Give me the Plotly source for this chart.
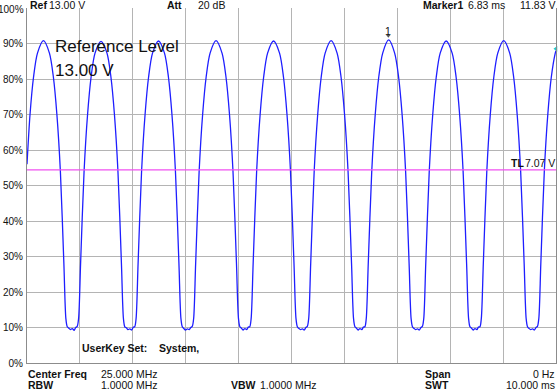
import plotly.graph_objects as go

# Trace: time (ms) and level (% of reference level 13.00 V)
time_ms = [
    0.000, 0.057, 0.123, 0.198, 0.311, 0.424, 0.499, 0.565, 0.631, 0.697, 0.735, 0.761, 0.791, 0.821, 0.856, 0.891, 0.921,
    0.949, 0.975, 1.013, 1.079, 1.145, 1.211, 1.286, 1.399, 1.512, 1.587, 1.653, 1.719, 1.785, 1.823, 1.849, 1.879, 1.909, 1.944, 1.979, 2.009,
    2.036, 2.062, 2.100, 2.166, 2.232, 2.298, 2.373, 2.486, 2.599, 2.674, 2.740, 2.806, 2.872, 2.910, 2.936, 2.966, 2.996, 3.031, 3.066, 3.096,
    3.124, 3.150, 3.188, 3.254, 3.320, 3.386, 3.461, 3.574, 3.687, 3.762, 3.828, 3.894, 3.960, 3.998, 4.024, 4.054, 4.084, 4.119, 4.154, 4.184,
    4.211, 4.237, 4.275, 4.341, 4.407, 4.473, 4.548, 4.661, 4.774, 4.849, 4.915, 4.981, 5.047, 5.085, 5.111, 5.141, 5.171, 5.206, 5.241, 5.271,
    5.299, 5.325, 5.363, 5.429, 5.495, 5.561, 5.636, 5.749, 5.862, 5.937, 6.003, 6.069, 6.135, 6.173, 6.199, 6.229, 6.259, 6.294, 6.329, 6.359,
    6.387, 6.413, 6.451, 6.517, 6.583, 6.649, 6.724, 6.837, 6.950, 7.025, 7.091, 7.157, 7.223, 7.261, 7.287, 7.317, 7.347, 7.382, 7.417, 7.447,
    7.474, 7.500, 7.538, 7.604, 7.670, 7.736, 7.811, 7.924, 8.037, 8.112, 8.178, 8.244, 8.310, 8.348, 8.374, 8.404, 8.434, 8.469, 8.504, 8.534,
    8.562, 8.588, 8.626, 8.692, 8.758, 8.824, 8.899, 9.012, 9.125, 9.200, 9.266, 9.332, 9.398, 9.436, 9.462, 9.492, 9.522, 9.557, 9.592, 9.622,
    9.649, 9.675, 9.713, 9.779, 9.845, 9.911, 9.986, 10.000,
]
level_pct = [
    56.0, 70, 80.5, 87.3, 90.8, 87.3, 80.5, 70, 54, 28, 12.5, 10.2, 9.8, 9.4, 9.7, 9.2, 10.0,
    10.3, 12.5, 28, 54, 70, 80.5, 87.3, 90.6, 87.3, 80.5, 70, 54, 28, 12.5, 10.2, 9.9, 9.4, 9.6, 9.3, 10.1,
    10.2, 12.5, 28, 54, 70, 80.5, 87.3, 90.7, 87.3, 80.5, 70, 54, 28, 12.5, 10.2, 9.7, 9.3, 9.6, 9.4, 10.0,
    10.3, 12.5, 28, 54, 70, 80.5, 87.3, 90.8, 87.3, 80.5, 70, 54, 28, 12.5, 10.2, 9.8, 9.3, 9.7, 9.4, 10.1,
    10.2, 12.5, 28, 54, 70, 80.5, 87.3, 90.7, 87.3, 80.5, 70, 54, 28, 12.5, 10.2, 9.7, 9.4, 9.6, 9.3, 10.0,
    10.3, 12.5, 28, 54, 70, 80.5, 87.3, 90.8, 87.3, 80.5, 70, 54, 28, 12.5, 10.2, 9.8, 9.3, 9.7, 9.4, 10.1,
    10.2, 12.5, 28, 54, 70, 80.5, 87.3, 91.0, 87.3, 80.5, 70, 54, 28, 12.5, 10.2, 9.7, 9.4, 9.6, 9.3, 10.0,
    10.3, 12.5, 28, 54, 70, 80.5, 87.3, 90.7, 87.3, 80.5, 70, 54, 28, 12.5, 10.2, 9.8, 9.3, 9.7, 9.4, 10.1,
    10.2, 12.5, 28, 54, 70, 80.5, 87.3, 90.8, 87.3, 80.5, 70, 54, 28, 12.5, 10.2, 9.7, 9.4, 9.6, 9.3, 10.0,
    10.3, 12.5, 28, 54, 70, 80.5, 87.3, 88.0,
]

ref_level_v = 13.00
threshold_v = 7.07
marker_ms = 6.83
marker_v = 11.83
x_ticks = [0, 1, 2, 3, 4, 5, 6, 7, 8, 9, 10]
y_ticks = [0, 10, 20, 30, 40, 50, 60, 70, 80, 90]
y_labels = ["0%", "10%", "20%", "30%", "40%", "50%", "60%", "70%", "80%", "90%"]

FONT = "Arial, Liberation Sans, sans-serif"
L, R, T, B = 26, 3, 8, 27
W, H = 560, 390
PW, PH = W - L - R, H - T - B

fig = go.Figure()
fig.add_trace(go.Scatter(
    x=time_ms, y=level_pct, mode="lines",
    line=dict(color="#1e1eff", width=1.3, shape="spline", smoothing=0.8),
    hoverinfo="skip", showlegend=False,
))
# threshold line
tl_pct = threshold_v / ref_level_v * 100
fig.add_trace(go.Scatter(
    x=[0, 10], y=[tl_pct, tl_pct], mode="lines",
    line=dict(color="#f050f0", width=1.3), showlegend=False, hoverinfo="skip",
))
# marker 1
fig.add_trace(go.Scatter(
    x=[marker_ms], y=[marker_v / ref_level_v * 100 + 1.2], mode="markers",
    marker=dict(symbol="triangle-down", size=4, color="#555555"),
    showlegend=False, hoverinfo="skip",
))
# cyan level indicator at the right edge
fig.add_trace(go.Scatter(
    x=[10], y=[88.5], mode="markers",
    marker=dict(symbol="triangle-left", size=5, color="#20c8c8"),
    showlegend=False, hoverinfo="skip", cliponaxis=False,
))


def px2paper(px, py):
    return (px - L) / PW, (H - B - py) / PH


anns = []


def ann(text, px, py, anchor="left", size=10.5, bold=False):
    xp, yp = px2paper(px, py)
    t = f"<b>{text}</b>" if bold else text
    anns.append(dict(text=t, x=xp, y=yp, xref="paper", yref="paper",
                     xanchor=anchor, yanchor="middle", showarrow=False,
                     font=dict(family=FONT, size=size, color="#111111")))


ann("100%", 25, 9.5, "right", 10)
ann("Ref", 27, 4.5, bold=True)
ann("13.00 V", 46, 4.5)
ann("Att", 165, 4.5, bold=True)
ann("20 dB", 196, 4.5)
ann("Marker1", 421, 4.5, bold=True)
ann("6.83 ms", 467, 4.5)
ann("11.83 V", 558, 4.5, "right")
ann("Reference Level", 52, 46.5, size=17)
ann("13.00 V", 52, 70, size=17)
ann("1", 388, 31, "center")
ann("TL", 510, 163, bold=True)
ann("7.07 V", 558, 163, "right")
ann("UserKey Set:", 79, 348, bold=True)
ann("System,", 156, 348, bold=True)
ann("Center Freq", 25, 374, bold=True)
ann("25.000 MHz", 98, 374)
ann("Span", 423, 374, bold=True)
ann("0 Hz", 558, 374, "right")
ann("RBW", 25, 385, bold=True)
ann("1.0000 MHz", 98, 385)
ann("VBW", 229, 385, bold=True)
ann("1.0000 MHz", 258, 385)
ann("SWT", 423, 385, bold=True)
ann("10.000 ms", 558, 385, "right")

fig.update_layout(
    width=W, height=H,
    margin=dict(l=L, r=R, t=T, b=B, pad=0),
    paper_bgcolor="white", plot_bgcolor="white",
    annotations=anns,
    xaxis=dict(range=[0, 10], tickvals=x_ticks, showticklabels=False,
               showgrid=True, gridcolor="#b4b4b4", gridwidth=1,
               showline=True, linecolor="#8c8c8c", linewidth=1,
               zeroline=False, ticks="", fixedrange=True),
    yaxis=dict(range=[0, 100], tickvals=y_ticks, ticktext=y_labels,
               showgrid=True, gridcolor="#b4b4b4", gridwidth=1,
               showline=True, linecolor="#8c8c8c", linewidth=1, mirror=True,
               zeroline=False, ticks="", ticklabelstandoff=1,
               tickfont=dict(family=FONT, size=10, color="#111111"),
               fixedrange=True),
)

fig.write_html(
    "out.html",
    config={"displayModeBar": False},
    post_script="document.body.style.margin='0px';document.body.style.overflow='hidden';",
)
